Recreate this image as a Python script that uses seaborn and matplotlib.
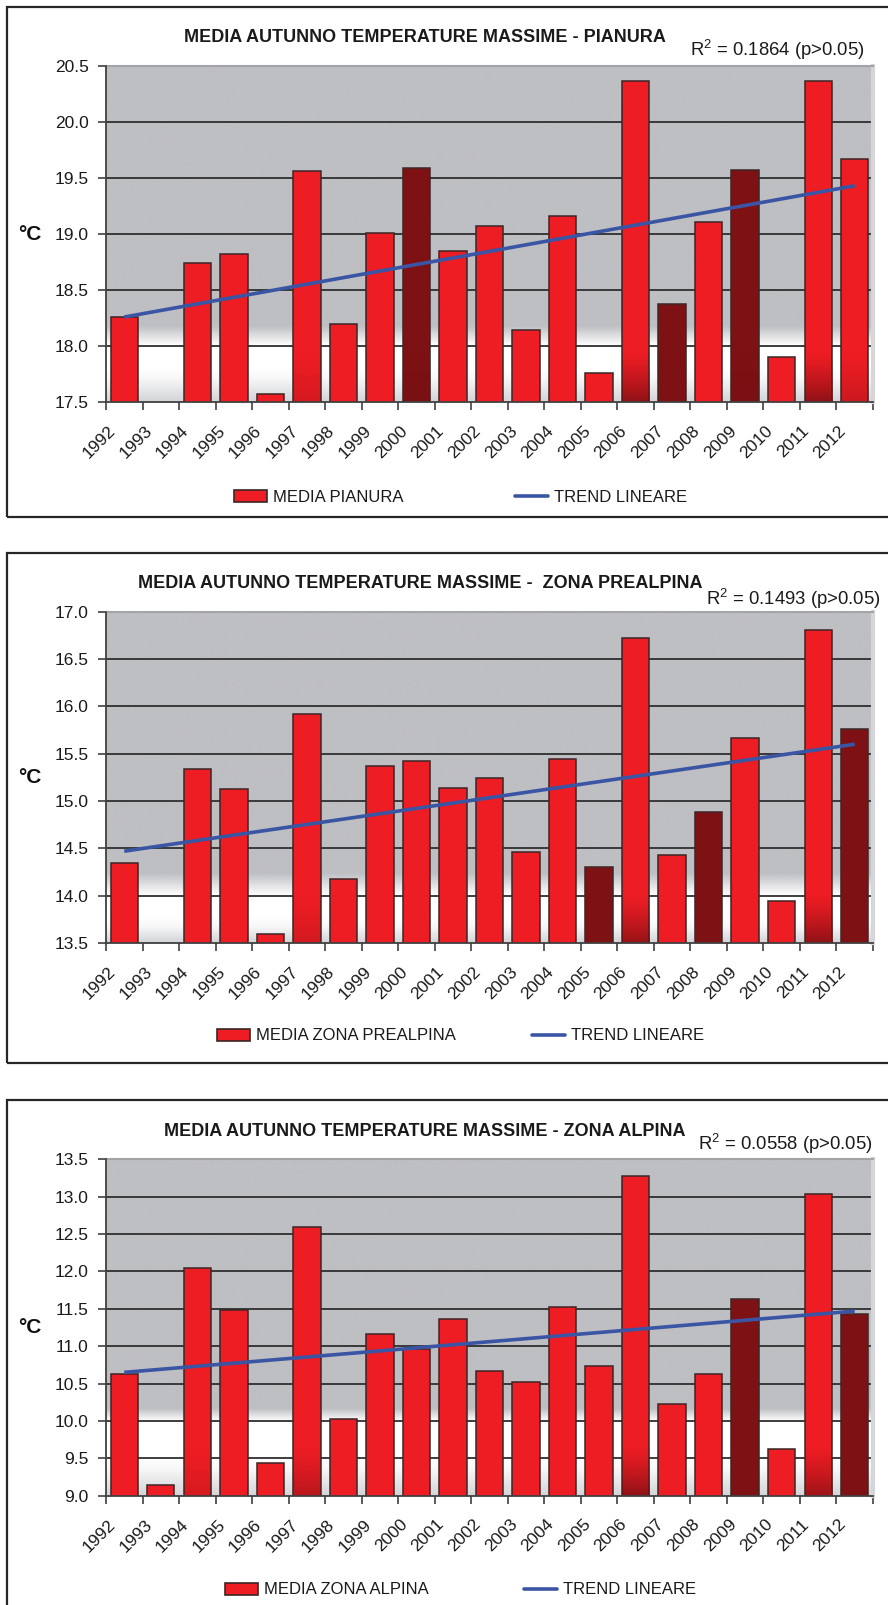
import numpy as np
import pandas as pd
import matplotlib
matplotlib.use("Agg")
import matplotlib.pyplot as plt
import matplotlib.transforms as mtransforms
from matplotlib.patches import Rectangle, Patch
from matplotlib.lines import Line2D
from matplotlib.colors import to_rgba
import seaborn as sns

sns.set_theme(style="white")
plt.rcParams["font.family"] = ["Liberation Sans", "DejaVu Sans"]
plt.rcParams["mathtext.fontset"] = "custom"
plt.rcParams["mathtext.rm"] = "Liberation Sans"
plt.rcParams["mathtext.it"] = "Liberation Sans"

# ---------------------------------------------------------------- data
years = list(range(1992, 2013))

pianura = [18.26, np.nan, 18.74, 18.82, 17.57, 19.56, 18.20, 19.01, 19.59, 18.85,
           19.07, 18.14, 19.16, 17.76, 20.36, 18.38, 19.11, 19.57, 17.90, 20.36, 19.67]
pianura_dark = [2000, 2007, 2009]
pianura_trend = [18.26, 19.43]

prealpina = [14.34, np.nan, 15.34, 15.13, 13.60, 15.92, 14.18, 15.37, 15.42, 15.14,
             15.24, 14.46, 15.44, 14.30, 16.72, 14.43, 14.88, 15.67, 13.94, 16.81, 15.76]
prealpina_dark = [2005, 2008, 2012]
prealpina_trend = [14.47, 15.60]

alpina = [10.63, 9.14, 12.04, 11.48, 9.44, 12.60, 10.02, 11.16, 10.96, 11.36,
          10.67, 10.52, 11.53, 10.73, 13.28, 10.23, 10.63, 11.63, 9.62, 13.03, 11.43]
alpina_dark = [2009, 2012]
alpina_trend = [10.65, 11.47]

titles = ["MEDIA AUTUNNO TEMPERATURE MASSIME - PIANURA",
          "MEDIA AUTUNNO TEMPERATURE MASSIME -  ZONA PREALPINA",
          "MEDIA AUTUNNO TEMPERATURE MASSIME - ZONA ALPINA"]
r2_values = ["0.1864", "0.1493", "0.0558"]
series_labels = ["MEDIA PIANURA", "MEDIA ZONA PREALPINA", "MEDIA ZONA ALPINA"]
trend_label = "TREND LINEARE"
y_ranges = [(17.5, 20.5), (13.5, 17.0), (9.0, 13.5)]

# ---------------------------------------------------------------- style
W, H = 888, 1605
RED = "#EE1D23"
DARK = "#7D1114"
EDGE = "#3C2626"
BLUE = "#3A55A4"
GRAY = "#BEBFC3"
TXT = "#1a1a1a"

panels = [
    dict(vals=pianura, dark=pianura_dark, trend=pianura_trend,
         ax_top=65.7, ax_bot=402.3, box=(7, 517), title_xy=(425, 38), r2_xy=(864, 50),
         leg_y=497, leg_x=(234, 515), bg=(0.07, 0.10, 0.167, 0.225)),
    dict(vals=prealpina, dark=prealpina_dark, trend=prealpina_trend,
         ax_top=611.7, ax_bot=943.0, box=(553, 1063), title_xy=(420.5, 583), r2_xy=(880, 599),
         leg_y=1036, leg_x=(217, 532), bg=(0.05, 0.08, 0.143, 0.21)),
    dict(vals=alpina, dark=alpina_dark, trend=alpina_trend,
         ax_top=1159.3, ax_bot=1495.7, box=(1100, 1612), title_xy=(425, 1132), r2_xy=(872, 1144),
         leg_y=1590, leg_x=(225, 524), bg=(0.08, 0.12, 0.222, 0.26)),
]

AX_LEFT, AX_RIGHT = 106, 873

fig = plt.figure(figsize=(W / 100, H / 100), dpi=100)
fig.patch.set_facecolor("white")


def fx(px):
    return px / W


def fy(py):
    return 1 - py / H


def background(stops):
    """Vertical fill of the plot area: grey above, a white band near the base."""
    a, b, c, d = stops
    f = np.linspace(0, 1, 400)
    keys = [0.0, a, b, c, d, 1.0]
    cols = [to_rgba(k) for k in ["#D3D4D7", "#F8F8F8", "#FFFFFF", "#FFFFFF", GRAY, GRAY]]
    img = np.zeros((len(f), 1, 4))
    for ch in range(4):
        img[:, 0, ch] = np.interp(f, keys, [c_[ch] for c_ in cols])
    return img


leg_kw = dict(frameon=False, fontsize=12, handlelength=2.0, handleheight=0.7,
              handletextpad=0.36, borderpad=0, borderaxespad=0, labelcolor=TXT,
              loc="center left")

for i, p in enumerate(panels):
    ymin, ymax = y_ranges[i]
    ax = fig.add_axes([fx(AX_LEFT), fy(p["ax_bot"]), fx(AX_RIGHT - AX_LEFT),
                       (p["ax_bot"] - p["ax_top"]) / H])

    # panel frame
    top, bot = p["box"]
    fig.patches.append(Rectangle((fx(7), fy(bot)), fx(900), (bot - top) / H,
                                 transform=fig.transFigure, fill=False,
                                 edgecolor="#262626", linewidth=1.6, zorder=0))

    # plot-area gradient
    ax.patch.set_visible(False)
    ax.imshow(background(p["bg"]), extent=[0, 1, 0, 1], transform=ax.transAxes,
              origin="lower", aspect="auto", zorder=-5, interpolation="bilinear")

    df = pd.DataFrame({
        "anno": [str(y) for y in years],
        "val": p["vals"],
        "tipo": ["scuro" if y in p["dark"] else "chiaro" for y in years],
    }).dropna()
    sns.barplot(data=df, x="anno", y="val", hue="tipo", order=[str(y) for y in years],
                hue_order=["chiaro", "scuro"], palette={"chiaro": RED, "scuro": DARK},
                dodge=False, width=0.75, errorbar=None, edgecolor=EDGE, linewidth=1.1,
                saturation=1, legend=False, ax=ax, zorder=3)

    span = ymax - ymin
    # darker base on the tallest bars
    for bar in list(ax.patches):
        h = bar.get_height()
        if not np.isfinite(h):
            continue
        ftop = (h - ymin) / span
        strength = np.clip((ftop - 0.66) / 0.29, 0, 1)
        if strength <= 0:
            continue
        amax = 0.25 + 0.55 * strength
        g = np.zeros((100, 1, 4))
        g[..., :3] = to_rgba("#6E0E12")[:3]
        g[:, 0, 3] = np.linspace(amax, 0, 100) ** 1.3
        x0 = bar.get_x()
        im = ax.imshow(g, extent=[x0, x0 + bar.get_width(), ymin, ymin + 0.15 * span],
                       origin="lower", aspect="auto", zorder=3.5, interpolation="bilinear")
        im.set_clip_path(bar)
    ax.set_ylim(ymin, ymax)
    ax.set_xlim(-0.5, len(years) - 0.5)

    # trend line across bar centres
    ax.plot([0, len(years) - 1], p["trend"], color=BLUE, linewidth=2.6,
            solid_capstyle="butt", zorder=5)

    # grid and axes
    yt = np.arange(ymin, ymax + 0.001, 0.5)
    ax.set_yticks(yt)
    ax.set_yticklabels([f"{v:.1f}" for v in yt], fontsize=12.5, color=TXT)
    for v in yt[1:]:
        ax.axhline(v, color="#2E2E2E", linewidth=1.3, zorder=1)
    ax.tick_params(axis="y", which="major", direction="out", length=6, width=1.2,
                   color="#404040", pad=6.5, left=True)

    ax.set_xticks(range(len(years)))
    ax.set_xticks(np.arange(-0.5, len(years), 1), minor=True)
    ax.set_xticklabels([str(y) for y in years], rotation=45, ha="right", va="top",
                       fontsize=12.5, color=TXT)
    ax.tick_params(axis="x", which="major", length=0, pad=15, bottom=True)
    ax.tick_params(axis="x", which="minor", direction="out", length=6, width=1.2,
                   color="#404040", bottom=True)
    shift = mtransforms.ScaledTranslation(-6 / 100, 0, fig.dpi_scale_trans)
    for lab in ax.get_xticklabels():
        lab.set_transform(lab.get_transform() + shift)

    ax.set_xlabel("")
    ax.set_ylabel("")
    for side in ["left", "bottom"]:
        ax.spines[side].set_color("#404040")
        ax.spines[side].set_linewidth(1.3)
        ax.spines[side].set_zorder(6)
    ax.spines["top"].set_color("#A3A4A7")
    ax.spines["top"].set_linewidth(1.5)
    ax.spines["right"].set_color("#D6D6D8")
    ax.spines["right"].set_linewidth(3)

    fig.text(fx(29.5), fy((p["ax_top"] + p["ax_bot"]) / 2), "°C", fontsize=15,
             fontweight="bold", ha="center", va="center", color="#111111")

    tx, ty = p["title_xy"]
    fig.text(fx(tx), fy(ty), titles[i], fontsize=13, fontweight="bold",
             ha="center", va="center", color=TXT)
    rx, ry = p["r2_xy"]
    fig.text(fx(rx), fy(ry), r"R$^{2}$" + f" = {r2_values[i]} (p>0.05)", fontsize=13.3,
             ha="right", va="center", color=TXT)

    # legend: series swatch and trend line, each anchored at its own position
    px_bar, px_line = p["leg_x"]
    leg1 = ax.legend(handles=[Patch(facecolor=RED, edgecolor=EDGE, linewidth=1.2,
                                    label=series_labels[i])],
                     bbox_to_anchor=(fx(px_bar), fy(p["leg_y"])),
                     bbox_transform=fig.transFigure, **leg_kw)
    ax.add_artist(leg1)
    ax.legend(handles=[Line2D([0], [0], color=BLUE, linewidth=2.6, label=trend_label)],
              bbox_to_anchor=(fx(px_line), fy(p["leg_y"])),
              bbox_transform=fig.transFigure, **leg_kw)

fig.savefig("out.png", dpi=100, facecolor="white")
